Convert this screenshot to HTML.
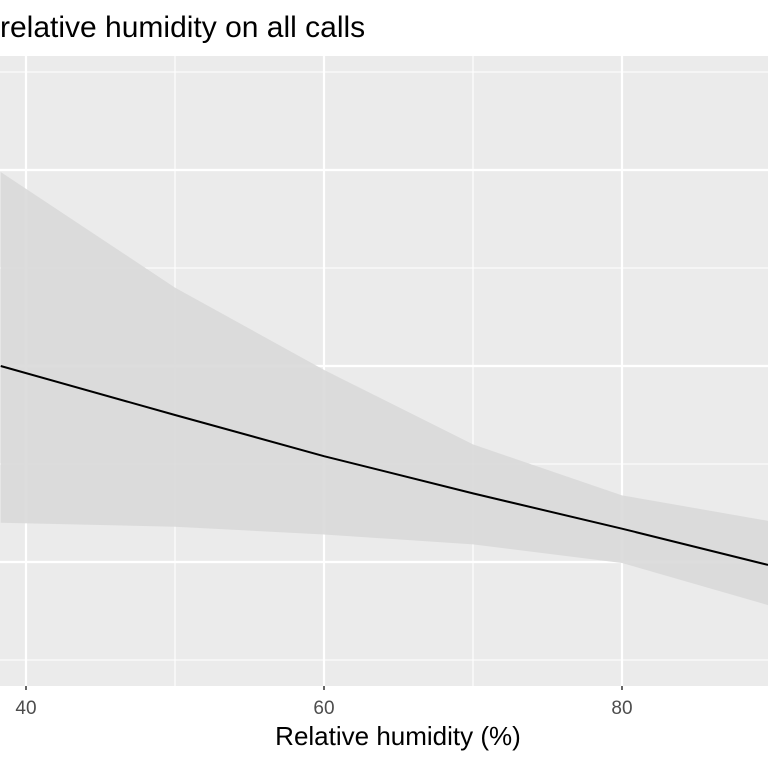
<!DOCTYPE html>
<html><head><meta charset="utf-8"><style>
body{margin:0;background:#fff}
svg{display:block;font-family:"Liberation Sans",sans-serif}
</style></head><body>
<svg id="chart" width="768" height="768">
<text x="0" y="37" font-size="30" fill="#000">relative humidity on all calls</text>
<rect x="0" y="56" width="768" height="630" fill="#ebebeb"/>
<g id="grid"></g>
<path id="ribbon" fill="#d9d9d9" fill-opacity="0.9"/>
<path id="fit" fill="none" stroke="#000" stroke-width="2"/>
<g id="xaxis"></g>
<text x="398" y="745" text-anchor="middle" font-size="26" fill="#000">Relative humidity (%)</text>
</svg>
<script>
const xs=[38.3,50,60,70,80,89.8];
const fitVals=[2.00,1.75,1.54,1.35,1.17,0.985];
const upperVals=[2.99,2.40,1.98,1.60,1.34,1.21];
const lowerVals=[1.20,1.18,1.14,1.09,0.995,0.78];
const xTicks=[40,60,80];
const xMinor=[50,70];
const yMajor=[1,2,3];
const yMinor=[0.5,1.5,2.5,3.5];
const X=v=>26+(v-40)*14.9;
const Y=v=>562-(v-1)*196;
const NS="http://www.w3.org/2000/svg";
const grid=document.getElementById('grid'),xa=document.getElementById('xaxis');
function line(p,x1,y1,x2,y2,w,c){const l=document.createElementNS(NS,'line');
l.setAttribute('x1',x1);l.setAttribute('y1',y1);l.setAttribute('x2',x2);l.setAttribute('y2',y2);
l.setAttribute('stroke',c);l.setAttribute('stroke-width',w);p.appendChild(l);return l;}
yMinor.forEach(v=>{const l=line(grid,0,Y(v),768,Y(v),1.1,'#fff');

});
xMinor.forEach(v=>{const l=line(grid,X(v),56,X(v),686,1.1,'#fff');

});
yMajor.forEach(v=>{const l=line(grid,0,Y(v),768,Y(v),2.2,'#fff');

});
xTicks.forEach(v=>{const l=line(grid,X(v),56,X(v),686,2.2,'#fff');


const t=line(xa,X(v),686,X(v),690,1.5,'#333');


const tx=document.createElementNS(NS,'text');tx.setAttribute('x',X(v));tx.setAttribute('y',714);
tx.setAttribute('text-anchor','middle');tx.setAttribute('font-size','19');tx.setAttribute('fill','#4d4d4d');
tx.textContent=v;


xa.appendChild(tx);});
let d='';xs.forEach((x,i)=>d+=(i?'L':'M')+X(x)+','+Y(upperVals[i]));
for(let i=xs.length-1;i>=0;i--)d+='L'+X(xs[i])+','+Y(lowerVals[i]);
document.getElementById('ribbon').setAttribute('d',d+'Z');
let f='';xs.forEach((x,i)=>f+=(i?'L':'M')+X(x)+','+Y(fitVals[i]));
document.getElementById('fit').setAttribute('d',f);
</script>
</body></html>
